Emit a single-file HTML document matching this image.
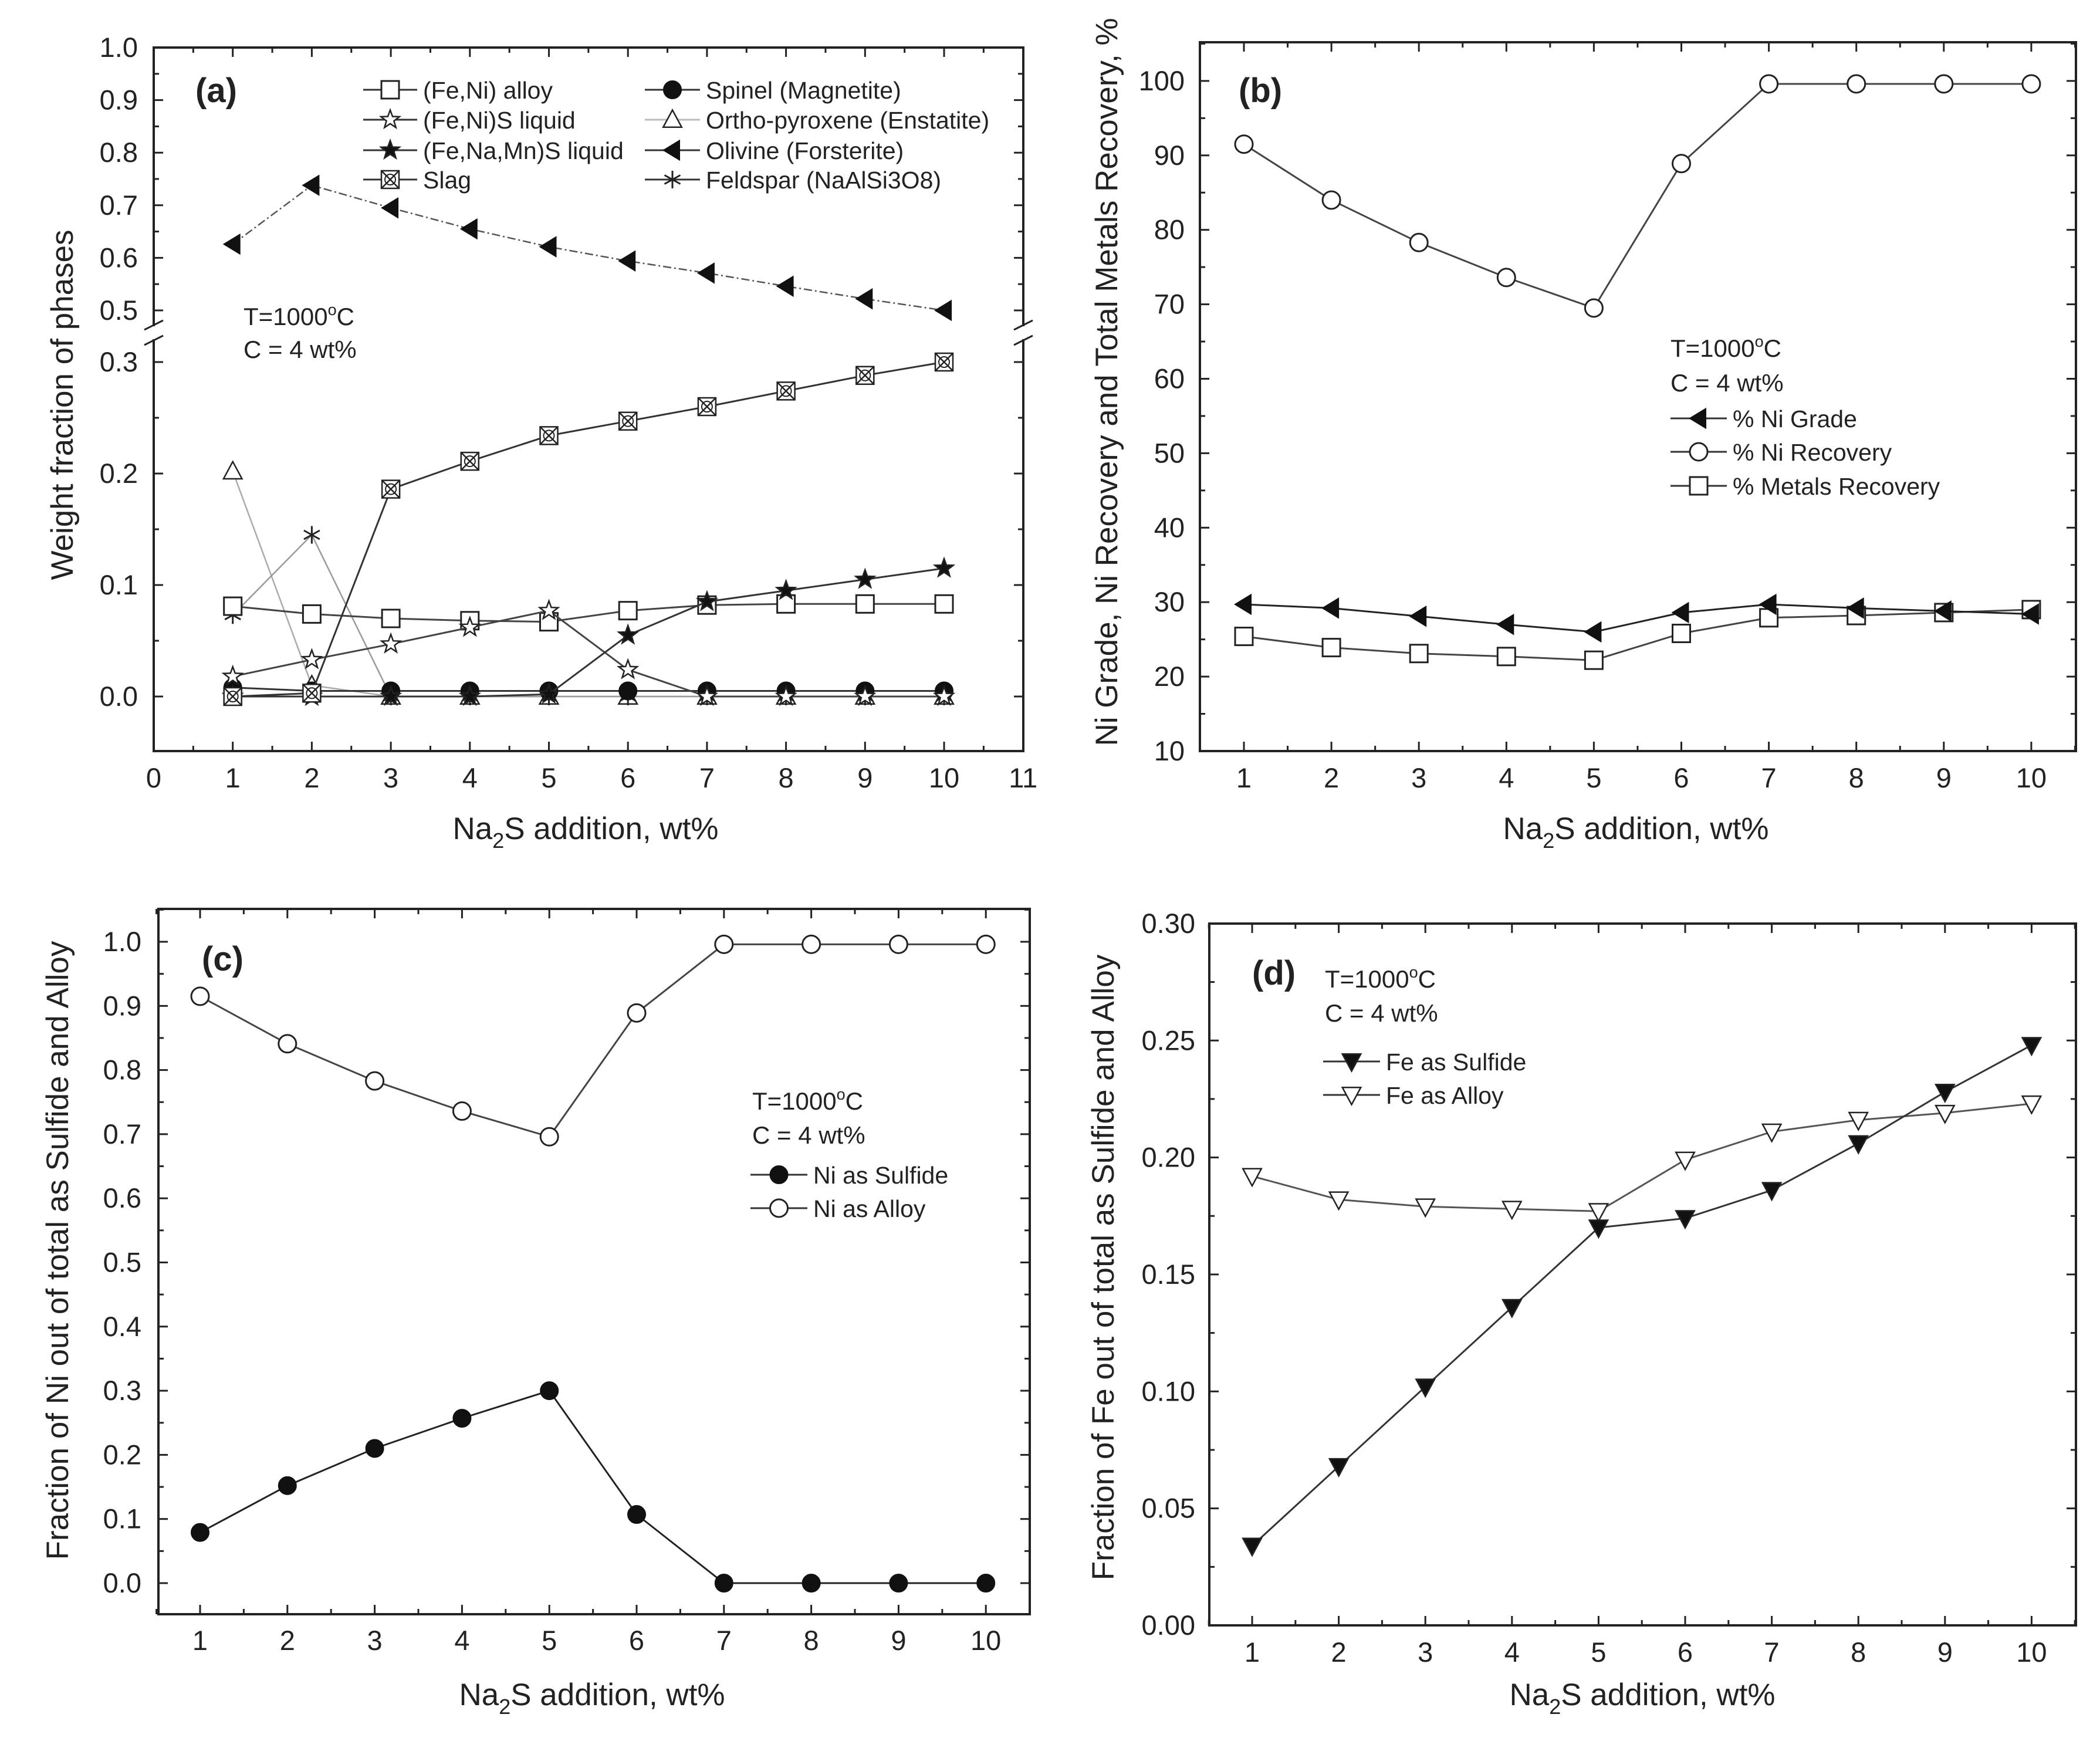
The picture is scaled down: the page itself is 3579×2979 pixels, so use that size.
<!DOCTYPE html>
<html><head><meta charset="utf-8"><style>
html,body{margin:0;padding:0;background:#fff;}
svg{display:block;font-family:"Liberation Sans",Arial,sans-serif;}
</style></head><body>
<svg id="fig" width="3579" height="2979" viewBox="0 0 3579 2979" xmlns="http://www.w3.org/2000/svg"></svg>
<script>
// ---------- data ----------
const xCats = [1,2,3,4,5,6,7,8,9,10];
// panel a
const aAlloy    = [0.081,0.074,0.070,0.068,0.067,0.077,0.082,0.083,0.083,0.083];
const aFeNiS    = [0.018,0.033,0.047,0.062,0.077,0.024,0,0,0,0];
const aFeNaMnS  = [0,0,0,0,0.002,0.055,0.085,0.095,0.105,0.115];
const aSlag     = [0,0.003,0.186,0.211,0.234,0.247,0.260,0.274,0.288,0.300];
const aSpinel   = [0.008,0.005,0.005,0.005,0.005,0.005,0.005,0.005,0.005,0.005];
const aOrtho    = [0.202,0.010,0,0,0,0,0,0,0,0];
const aOlivine  = [0.626,0.738,0.695,0.655,0.621,0.594,0.571,0.546,0.522,0.500];
const aFeldspar = [0.073,0.145,0,0,0,0,0,0,0,0];
const aXTicks = [0,1,2,3,4,5,6,7,8,9,10,11];
const aYTicksLow = [0.0,0.1,0.2,0.3];
const aYTicksHigh = [0.5,0.6,0.7,0.8,0.9,1.0];
// panel b
const bNiGrade = [29.7,29.2,28.1,27.0,26.0,28.6,29.7,29.2,28.8,28.4];
const bNiRec   = [91.5,84.0,78.3,73.6,69.5,88.9,99.6,99.6,99.6,99.6];
const bMetRec  = [25.4,23.9,23.1,22.7,22.2,25.8,27.9,28.2,28.6,29.0];
const bYTicks = [10,20,30,40,50,60,70,80,90,100];
// panel c
const cSulfide = [0.079,0.152,0.210,0.257,0.300,0.107,0,0,0,0];
const cAlloy   = [0.915,0.841,0.783,0.736,0.696,0.889,0.996,0.996,0.996,0.996];
const cYTicks = [0.0,0.1,0.2,0.3,0.4,0.5,0.6,0.7,0.8,0.9,1.0];
// panel d
const dSulfide = [0.034,0.068,0.102,0.136,0.170,0.174,0.186,0.206,0.228,0.248];
const dAlloy   = [0.192,0.182,0.179,0.178,0.177,0.199,0.211,0.216,0.219,0.223];
const dYTicks = [0.00,0.05,0.10,0.15,0.20,0.25,0.30];
const dYLabels = ["0.00","0.05","0.10","0.15","0.20","0.25","0.30"];

// ---------- helpers ----------
const NS="http://www.w3.org/2000/svg";
const svg=document.getElementById('fig');
const TICKF=47, TITLEF=53, LEGF=41, CONDF=42;
function mk(tag,attrs,parent){const e=document.createElementNS(NS,tag);for(const k in attrs)e.setAttribute(k,attrs[k]);(parent||svg).appendChild(e);return e;}
function txt(x,y,s,size,anchor,parent,extra){const t=mk('text',Object.assign({x:x,y:y,'font-size':size,'text-anchor':anchor||'start',fill:'#222'},extra||{}),parent);t.textContent=s;return t;}
const R=15;
function marker(g,type,x,y){
  let e;
  if(type==='sq'){e=mk('rect',{x:x-R,y:y-R,width:2*R,height:2*R,fill:'#fff',stroke:'#222','stroke-width':3},g);}
  else if(type==='oc'){e=mk('circle',{cx:x,cy:y,r:R,fill:'#fff',stroke:'#222','stroke-width':3},g);}
  else if(type==='fc'){e=mk('circle',{cx:x,cy:y,r:R,fill:'#111',stroke:'#111','stroke-width':2},g);}
  else if(type==='ltri'){e=mk('polygon',{points:`${x-R},${y} ${x+R*0.8},${y-R*1.1} ${x+R*0.8},${y+R*1.1}`,fill:'#111',stroke:'#111','stroke-width':2},g);}
  else if(type==='utri'){e=mk('polygon',{points:`${x},${y-R*1.1} ${x-R*1.05},${y+R*0.85} ${x+R*1.05},${y+R*0.85}`,fill:'#fff',stroke:'#222','stroke-width':2.5},g);}
  else if(type==='dtri'||type==='dtrio'){e=mk('polygon',{points:`${x},${y+R*1.1} ${x-R*1.05},${y-R*0.85} ${x+R*1.05},${y-R*0.85}`,fill:type==='dtri'?'#111':'#fff',stroke:'#222','stroke-width':2.5},g);}
  else if(type==='star'||type==='fstar'){
    let p=[];for(let i=0;i<10;i++){const a=-Math.PI/2+i*Math.PI/5;const r=i%2?R*0.45:R*1.1;p.push((x+r*Math.cos(a)).toFixed(1)+','+(y+r*Math.sin(a)).toFixed(1));}
    e=mk('polygon',{points:p.join(' '),fill:type==='fstar'?'#111':'#fff',stroke:'#222','stroke-width':2.5},g);}
  else if(type==='slag'){e=mk('g',{},g);mk('rect',{x:x-R,y:y-R,width:2*R,height:2*R,fill:'#fff',stroke:'#222','stroke-width':2.5},e);mk('path',{d:`M${x-R} ${y-R}L${x+R} ${y+R}M${x+R} ${y-R}L${x-R} ${y+R}`,stroke:'#222','stroke-width':2.5},e);mk('circle',{cx:x,cy:y,r:R*0.6,fill:'none',stroke:'#222','stroke-width':2},e);}
  else if(type==='ast'){e=mk('path',{d:`M${x} ${y-R}L${x} ${y+R}M${x-R*0.9} ${y-R*0.5}L${x+R*0.9} ${y+R*0.5}M${x+R*0.9} ${y-R*0.5}L${x-R*0.9} ${y+R*0.5}`,stroke:'#222','stroke-width':3},g);}
  return e;
}
function series(name,vals,xf,yf,type,color,dash,width){
  const g=mk('g',{});
  
  
  const pts=vals.map((v,i)=>xf(xCats[i]).toFixed(1)+','+yf(v).toFixed(1));
  const l=mk('polyline',{points:pts.join(' '),fill:'none',stroke:color||'#333','stroke-width':width||3},g);
  if(dash)l.setAttribute('stroke-dasharray',dash);
  vals.forEach((v,i)=>{marker(g,type,xf(xCats[i]),yf(v));});
  return g;
}
function box(name,L,T,Rr,B){
  const g=mk('g',{});
  
  
  mk('rect',{x:L,y:T,width:Rr-L,height:B-T,fill:'none',stroke:'#222','stroke-width':4},g);
  return g;
}
function xTicks(g,xf,T,B,vals,minor,labelY,labels){
  vals.forEach((v,i)=>{const x=xf(v);
    mk('line',{x1:x,y1:B,x2:x,y2:B-16,stroke:'#222','stroke-width':3},g);
    mk('line',{x1:x,y1:T,x2:x,y2:T+16,stroke:'#222','stroke-width':3},g);
    txt(x,labelY,labels?labels[i]:String(v),TICKF,'middle',g);});
  minor.forEach(v=>{const x=xf(v);
    mk('line',{x1:x,y1:B,x2:x,y2:B-9,stroke:'#222','stroke-width':3},g);
    mk('line',{x1:x,y1:T,x2:x,y2:T+9,stroke:'#222','stroke-width':3},g);});
}
function yTicks(g,yf,L,Rr,vals,minor,labelX,labels){
  vals.forEach((v,i)=>{const y=yf(v);
    mk('line',{x1:L,y1:y,x2:L+16,y2:y,stroke:'#222','stroke-width':3},g);
    mk('line',{x1:Rr,y1:y,x2:Rr-16,y2:y,stroke:'#222','stroke-width':3},g);
    txt(labelX,y+16,labels?labels[i]:v.toFixed(1),TICKF,'end',g);});
  minor.forEach(v=>{const y=yf(v);
    mk('line',{x1:L,y1:y,x2:L+9,y2:y,stroke:'#222','stroke-width':3},g);
    mk('line',{x1:Rr,y1:y,x2:Rr-9,y2:y,stroke:'#222','stroke-width':3},g);});
}
function xTitle(cx,y){
  const t=mk('text',{x:cx,y:y,'font-size':TITLEF,'text-anchor':'middle',fill:'#222'});
  
  
  t.innerHTML='Na<tspan font-size="36" dy="15">2</tspan><tspan dy="-15">S addition, wt%</tspan>';
}
function yTitle(x,cy,s){
  const t=mk('text',{x:0,y:0,'font-size':TITLEF,'text-anchor':'middle',fill:'#222',transform:`translate(${x},${cy}) rotate(-90)`});
  
  
  t.textContent=s;
}
function cond(x,y1,y2){
  const t=mk('text',{x:x,y:y1,'font-size':CONDF,fill:'#222'});
  
  
  t.innerHTML='T=1000<tspan font-size="27" dy="-17">o</tspan><tspan dy="17">C</tspan>';
  const t2=txt(x,y2,'C = 4 wt%',CONDF,'start');
  
  
}
function legendEntry(x1,x2,y,type,label,color,dash){
  const g=mk('g',{});
  
  
  const l=mk('line',{x1:x1,y1:y,x2:x2,y2:y,stroke:color||'#333','stroke-width':3},g);
  if(dash)l.setAttribute('stroke-dasharray',dash);
  marker(g,type,(x1+x2)/2,y);
  txt(x2+10,y+15,label,LEGF,'start',g);
}
function panelLabel(x,y,s){const t=txt(x,y,s,58,'start',null,{'font-weight':'bold'});}

// ---------- panel a ----------
(function(){
  const L=262,T=81,Rr=1744,B=1280;
  const xf=v=>L+v*134.7;
  const yf=v=>v<=0.4?1187-v*1900:81+(1.0-v)*896;
  const g=box('panel-a-axes',L,T,Rr,B);
  const minX=[];for(let i=0;i<11;i++)minX.push(i+0.5);
  xTicks(g,xf,T,B,aXTicks,minX,1342);
  yTicks(g,yf,L,Rr,aYTicksLow,[0.05,0.15,0.25],235);
  yTicks(g,yf,L,Rr,aYTicksHigh,[0.55,0.65,0.75,0.85,0.95],235);
  mk('rect',{x:L-20,y:556,width:40,height:22,fill:'#fff'},g);
  mk('rect',{x:Rr-20,y:556,width:40,height:22,fill:'#fff'},g);
  [L,Rr].forEach(x=>{mk('line',{x1:x-16,y1:562,x2:x+16,y2:546,stroke:'#222','stroke-width':3},g);mk('line',{x1:x-16,y1:588,x2:x+16,y2:572,stroke:'#222','stroke-width':3},g);});
  series('series-ortho-pyroxene',aOrtho,xf,yf,'utri','#aaa',null,2.5);
  series('series-feldspar',aFeldspar,xf,yf,'ast','#999',null,2.5);
  series('series-spinel',aSpinel,xf,yf,'fc','#333');
  series('series-fe-ni-alloy',aAlloy,xf,yf,'sq','#444');
  series('series-fe-ni-s-liquid',aFeNiS,xf,yf,'star','#444');
  series('series-fe-na-mn-s-liquid',aFeNaMnS,xf,yf,'fstar','#333');
  series('series-slag',aSlag,xf,yf,'slag','#333');
  series('series-olivine',aOlivine,xf,yf,'ltri','#555','14,5,3,5',2.5);
  panelLabel(333,174,'(a)');
  cond(415,554,610);
  legendEntry(619,711,153,'sq','(Fe,Ni) alloy');
  legendEntry(619,711,204,'star','(Fe,Ni)S liquid');
  legendEntry(619,711,256,'fstar','(Fe,Na,Mn)S liquid');
  legendEntry(619,711,306,'slag','Slag');
  legendEntry(1099,1193,153,'fc','Spinel (Magnetite)');
  legendEntry(1099,1193,204,'utri','Ortho-pyroxene (Enstatite)','#bbb');
  legendEntry(1099,1193,256,'ltri','Olivine (Forsterite)');
  legendEntry(1099,1193,306,'ast','Feldspar (NaAlSi3O8)');
  yTitle(124,690,'Weight fraction of phases');
  xTitle(998,1430);
})();

// ---------- panel b ----------
(function(){
  const L=2045,T=72,Rr=3538,B=1280;
  const xf=v=>2120+(v-1)*149.1;
  const yf=v=>1280-(v-10)*12.69;
  const g=box('panel-b-axes',L,T,Rr,B);
  const minX=[];for(let i=1;i<=10;i++)minX.push(i+0.5);minX.unshift(0.5);
  xTicks(g,xf,T,B,xCats,minX,1342);
  const minY=[15,25,35,45,55,65,75,85,95,105];
  yTicks(g,yf,L,Rr,bYTicks,minY,2019,bYTicks.map(String));
  series('series-ni-recovery',bNiRec,xf,yf,'oc','#444');
  series('series-metals-recovery',bMetRec,xf,yf,'sq','#444');
  series('series-ni-grade',bNiGrade,xf,yf,'ltri','#222');
  panelLabel(2111,174,'(b)');
  cond(2847,608,667);
  legendEntry(2847,2943,713,'ltri','% Ni Grade');
  legendEntry(2847,2943,770,'oc','% Ni Recovery');
  legendEntry(2847,2943,828,'sq','% Metals Recovery');
  yTitle(1904,651,'Ni Grade, Ni Recovery and Total Metals Recovery, %');
  xTitle(2788,1430);
})();

// ---------- panel c ----------
(function(){
  const L=270,T=1549,Rr=1755,B=2751;
  const xf=v=>341+(v-1)*148.8;
  const yf=v=>2698-v*1093;
  const g=box('panel-c-axes',L,T,Rr,B);
  const minX=[];for(let i=0;i<=10;i++)minX.push(i+0.5);
  xTicks(g,xf,T,B,xCats,minX,2812);
  const minY=[];for(let i=0;i<=10;i++)minY.push(i*0.1+0.05);
  yTicks(g,yf,L,Rr,cYTicks,minY,241);
  series('series-ni-as-alloy',cAlloy,xf,yf,'oc','#444');
  series('series-ni-as-sulfide',cSulfide,xf,yf,'fc','#222');
  panelLabel(344,1654,'(c)');
  cond(1282,1891,1949);
  legendEntry(1279,1376,2002,'fc','Ni as Sulfide');
  legendEntry(1279,1376,2059,'oc','Ni as Alloy');
  yTitle(116,2131,'Fraction of Ni out of total as Sulfide and Alloy');
  xTitle(1009,2906);
})();

// ---------- panel d ----------
(function(){
  const L=2061,T=1574,Rr=3538,B=2770;
  const xf=v=>2134+(v-1)*147.6;
  const yf=v=>2770-v*3987;
  const g=box('panel-d-axes',L,T,Rr,B);
  const minX=[];for(let i=0;i<=10;i++)minX.push(i+0.5);
  xTicks(g,xf,T,B,xCats,minX,2832);
  yTicks(g,yf,L,Rr,dYTicks,[0.025,0.075,0.125,0.175,0.225,0.275],2037,dYLabels);
  series('series-fe-as-alloy',dAlloy,xf,yf,'dtrio','#555');
  series('series-fe-as-sulfide',dSulfide,xf,yf,'dtri','#333');
  panelLabel(2134,1678,'(d)');
  cond(2258,1683,1741);
  legendEntry(2255,2352,1809,'dtri','Fe as Sulfide');
  legendEntry(2255,2352,1866,'dtrio','Fe as Alloy');
  yTitle(1898,2160,'Fraction of Fe out of total as Sulfide and Alloy');
  xTitle(2799,2906);
})();
</script>
</body></html>
